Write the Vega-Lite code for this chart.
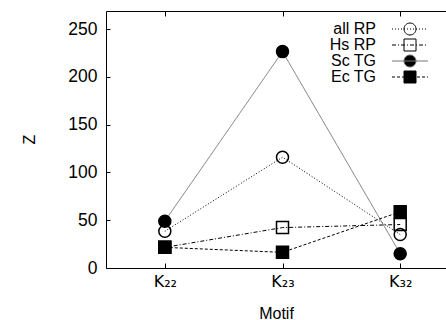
{
  "$schema": "https://vega.github.io/schema/vega-lite/v6.json",
  "autosize": "none",
  "width": 340,
  "height": 257,
  "padding": {"left": 106, "top": 11, "right": 0, "bottom": 52},
  "background": "white",
  "config": {
    "view": {"stroke": null},
    "font": "Liberation Sans",
    "axis": {"grid": false, "domainColor": "black", "tickColor": "black", "labelColor": "black", "titleColor": "black", "labelFont": "Liberation Sans", "titleFont": "Liberation Sans", "titleFontWeight": "normal"},
    "legend": {"orient": "none", "legendX": 296, "legendY": 10, "title": null, "padding": 0, "symbolSize": 144, "labelFontSize": 16, "labelFont": "Liberation Sans", "labelColor": "black", "labelAlign": "right", "labelOffset": -42, "rowPadding": -1.3}
  },
  "data": {"values": [
    {"Motif": "K₂₂", "series": "all RP", "Z": 38.4},
    {"Motif": "K₂₃", "series": "all RP", "Z": 116},
    {"Motif": "K₃₂", "series": "all RP", "Z": 35},
    {"Motif": "K₂₂", "series": "Hs RP", "Z": 21.6},
    {"Motif": "K₂₃", "series": "Hs RP", "Z": 42.3},
    {"Motif": "K₃₂", "series": "Hs RP", "Z": 45.5},
    {"Motif": "K₂₂", "series": "Sc TG", "Z": 49},
    {"Motif": "K₂₃", "series": "Sc TG", "Z": 226.5},
    {"Motif": "K₃₂", "series": "Sc TG", "Z": 15},
    {"Motif": "K₂₂", "series": "Ec TG", "Z": 21.6},
    {"Motif": "K₂₃", "series": "Ec TG", "Z": 16.4},
    {"Motif": "K₃₂", "series": "Ec TG", "Z": 58.8}
  ]},
  "layer": [
    {
      "mark": {"type": "line", "strokeWidth": 1},
      "encoding": {
        "x": {"field": "Motif", "type": "nominal", "sort": ["K₂₂", "K₂₃", "K₃₂"],
          "scale": {"type": "point", "padding": 0.4444, "align": 0.5622},
          "axis": {"orient": "bottom", "title": "Motif", "labelAngle": 0, "labelFont": "DejaVu Sans", "labelFontSize": 16, "titleFontSize": 16, "tickSize": -5, "labelPadding": 10, "labelBaseline": "top", "titleY": 37, "titleBaseline": "top"}},
        "y": {"field": "Z", "type": "quantitative",
          "scale": {"domain": [0, 269], "nice": false, "zero": true},
          "axis": {"values": [0, 50, 100, 150, 200, 250], "title": "Z", "labelFontSize": 17.5, "titleFontSize": 16, "tickSize": -4, "labelPadding": 13, "titleX": -77, "titleY": 128, "titleAngle": -90, "titleAlign": "center", "titleBaseline": "middle"}},
        "detail": {"field": "series"},
        "stroke": {"field": "series", "type": "nominal", "legend": null,
          "scale": {"domain": ["Sc TG", "all RP", "Hs RP", "Ec TG"], "range": ["#777777", "black", "black", "black"]}},
        "strokeDash": {"field": "series", "type": "nominal", "legend": null,
          "scale": {"domain": ["Sc TG", "all RP", "Hs RP", "Ec TG"], "range": [[1, 0], [1, 2], [4, 2, 1, 2], [3, 2]]}}
      }
    },
    {
      "mark": {"type": "point", "size": 144, "strokeWidth": 1.5, "stroke": "black", "opacity": 1},
      "encoding": {
        "x": {"field": "Motif", "type": "nominal", "sort": ["K₂₂", "K₂₃", "K₃₂"],
          "axis": {"orient": "top", "title": null, "labels": false, "tickSize": -5, "domain": true}},
        "y": {"field": "Z", "type": "quantitative", "axis": null},
        "shape": {"field": "series", "type": "nominal", "legend": null,
          "scale": {"domain": ["Sc TG", "all RP", "Hs RP", "Ec TG"], "range": ["circle", "circle", "square", "square"]}},
        "fill": {"field": "series", "type": "nominal",
          "scale": {"domain": ["all RP", "Hs RP", "Sc TG", "Ec TG"], "range": ["transparent", "transparent", "black", "black"]},
          "legend": {
            "symbolType": {"expr": "datum.value == 'all RP' ? 'M-3,0h0.17M-2.5,0h0.17M-2,0h0.17M-1.5,0h0.17M-1,0h0.17M-0.5,0h0.17M0,0h0.17M0.5,0h0.17M1,0h0.17M1.5,0h0.17M2,0h0.17M2.5,0h0.17M-1,0A1,1 0 1,0 1,0A1,1 0 1,0 -1,0Z' : datum.value == 'Hs RP' ? 'M-3,0h0.67M-2,0h0.17M-1.5,0h0.67M-0.5,0h0.17M0,0h0.67M1,0h0.17M1.5,0h0.67M2.5,0h0.17M-1,-1H1V1H-1Z' : datum.value == 'Sc TG' ? 'M-3,0H3M-1,0A1,1 0 1,0 1,0A1,1 0 1,0 -1,0Z' : 'M-3,0h0.5M-2.17,0h0.5M-1.33,0h0.5M-0.5,0h0.5M0.33,0h0.5M1.17,0h0.5M2,0h0.5M2.83,0h0.17M-1,-1H1V1H-1Z'"},
            "symbolStrokeColor": {"expr": "datum.value == 'Sc TG' ? '#777777' : 'black'"},
            "symbolStrokeWidth": 1,
            "symbolOpacity": 1
          }}
      }
    }
  ],
  "resolve": {"axis": {"x": "independent", "y": "independent"}}
}
